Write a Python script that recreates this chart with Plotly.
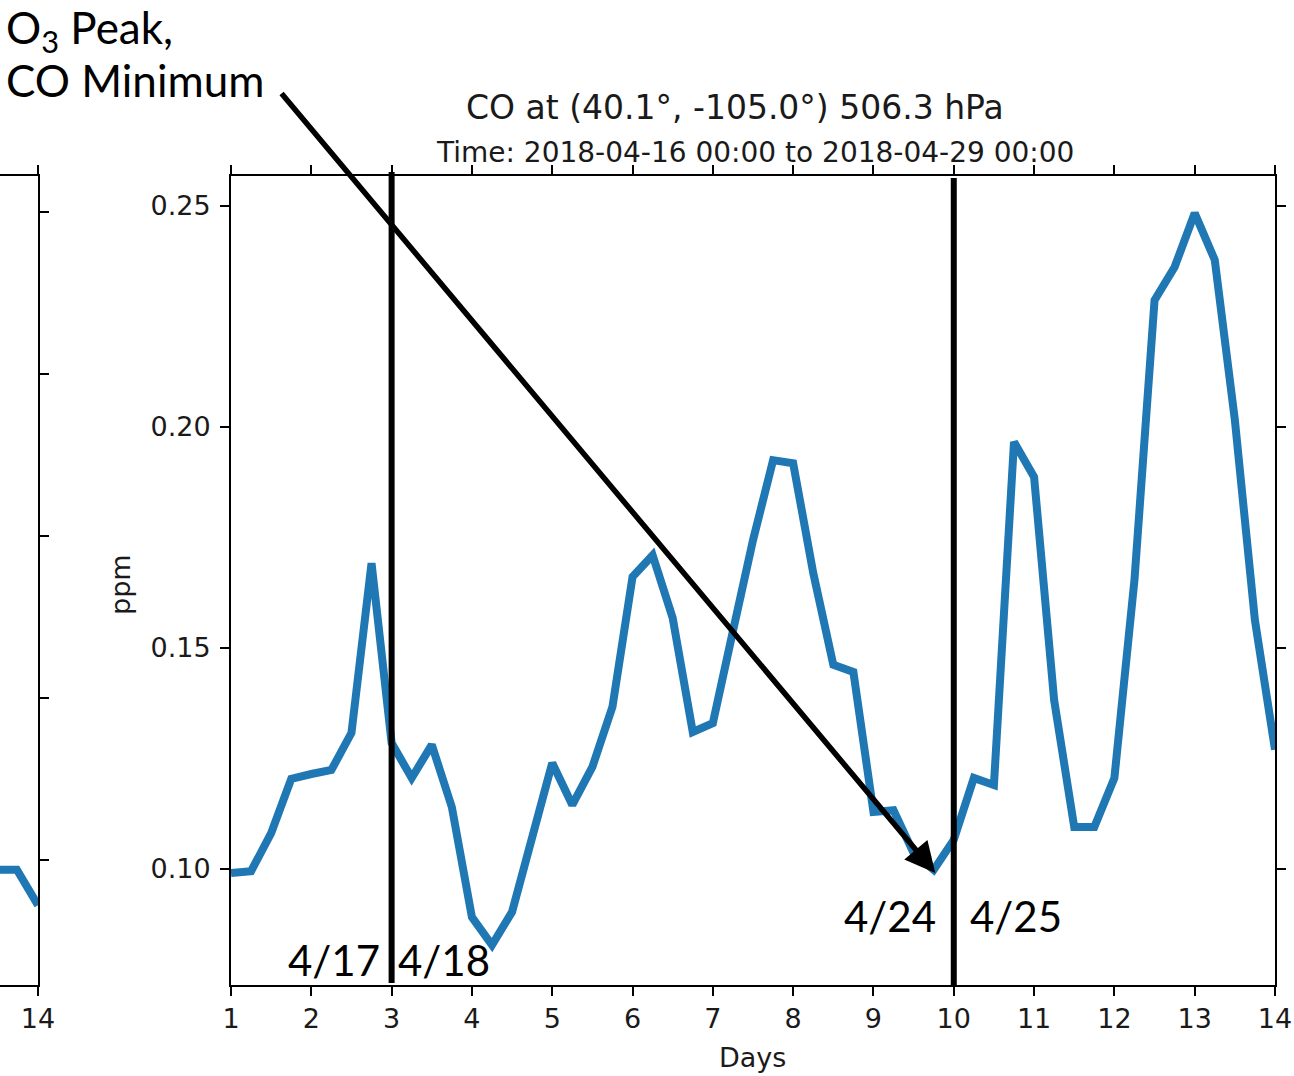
import plotly.graph_objects as go

W, H = 1294, 1076

# ---- data ----
days = [1.0, 1.25, 1.5, 1.75, 2.0, 2.25, 2.5, 2.75, 3.0, 3.25, 3.5, 3.75,
        4.0, 4.25, 4.5, 4.75, 5.0, 5.25, 5.5, 5.75, 6.0, 6.25, 6.5, 6.75,
        7.0, 7.25, 7.5, 7.75, 8.0, 8.25, 8.5, 8.75, 9.0, 9.25, 9.5, 9.75,
        10.0, 10.25, 10.5, 10.75, 11.0, 11.25, 11.5, 11.75, 12.0, 12.25,
        12.5, 12.75, 13.0, 13.25, 13.5, 13.75, 14.0]
co_ppm = [0.0991, 0.0995, 0.1081, 0.1204, 0.1215, 0.1224, 0.1308, 0.1692,
          0.1285, 0.1206, 0.1281, 0.1140, 0.0891, 0.0828, 0.0903, 0.1072,
          0.1240, 0.1145, 0.1231, 0.1367, 0.1661, 0.1710, 0.1568, 0.1310,
          0.1330, 0.1538, 0.1744, 0.1925, 0.1918, 0.1670, 0.1462, 0.1446,
          0.1129, 0.1133, 0.1036, 0.0998, 0.1066, 0.1206, 0.1190, 0.1966,
          0.1887, 0.1382, 0.1095, 0.1095, 0.1206, 0.1654, 0.2287, 0.2362,
          0.2484, 0.2378, 0.2016, 0.1563, 0.1270]
x_ticks = [1, 2, 3, 4, 5, 6, 7, 8, 9, 10, 11, 12, 13, 14]
y_ticks = [0.10, 0.15, 0.20, 0.25]
y_ticktext = ["0.10", "0.15", "0.20", "0.25"]

# partial neighbouring panel (only its right edge is visible)
left_days = [13.5, 13.75, 14.0]
left_vals = [0.0394, 0.0394, 0.0372]
left_yticks = [0.04, 0.05, 0.06, 0.07, 0.08]

event_days = [3, 10]
event_labels = [("4/17", "4/18"), ("4/24", "4/25")]
min_day, min_val = 9.77, 0.0991


def px(x):
    return x / W


def py(y):
    return 1 - y / H


BLUE = "#1f77b4"
TXT = "#1a1a1a"
MPL = "DejaVu Sans"
PPT = "Lato, Carlito, Calibri, 'Open Sans', sans-serif"

fig = go.Figure()
fig.add_trace(go.Scatter(x=days, y=co_ppm, mode="lines",
                         line=dict(color=BLUE, width=8), xaxis="x", yaxis="y",
                         showlegend=False, hoverinfo="skip"))
fig.add_trace(go.Scatter(x=left_days, y=left_vals, mode="lines",
                         line=dict(color=BLUE, width=8), xaxis="x2", yaxis="y2",
                         showlegend=False, hoverinfo="skip"))

axis_common = dict(showgrid=False, zeroline=False, showline=True,
                   linecolor="black", linewidth=2, ticks="outside",
                   ticklen=9, tickwidth=2, tickcolor="black", automargin=False,
                   tickfont=dict(family=MPL, size=27, color=TXT))

fig.update_layout(
    width=W, height=H, margin=dict(l=0, r=0, t=0, b=0, pad=0, autoexpand=False),
    paper_bgcolor="white", plot_bgcolor="white",
    xaxis=dict(domain=[px(231), px(1275)], range=[1, 14], tickvals=x_ticks,
               mirror="allticks", anchor="y", **axis_common),
    yaxis=dict(domain=[py(985), py(176)], range=[0.07376, 0.25679],
               tickvals=y_ticks, ticktext=y_ticktext, mirror="allticks",
               anchor="x", ticklabelstandoff=4, **axis_common),
    xaxis2=dict(domain=[0, px(38)], range=[13.55, 14.0], tickvals=[14],
                mirror="allticks", anchor="y2", **axis_common),
    yaxis2=dict(domain=[py(985), py(176)], range=[0.03228, 0.08222],
                tickvals=left_yticks, side="right", showticklabels=False,
                anchor="x2", **axis_common),
)

# event vertical lines
fig.add_shape(type="line", xref="x", yref="paper", x0=event_days[0], x1=event_days[0],
              y0=py(983), y1=py(172), line=dict(color="black", width=6))
fig.add_shape(type="line", xref="x", yref="paper", x0=event_days[1], x1=event_days[1],
              y0=py(987), y1=py(178), line=dict(color="black", width=6))

ann = []


def label(text, x, y, size, family, xanchor="center", yanchor="middle", **kw):
    ann.append(dict(text=text, x=px(x), y=py(y), xref="paper", yref="paper",
                    xanchor=xanchor, yanchor=yanchor, showarrow=False,
                    font=dict(family=family, size=size, color=kw.pop("color", TXT)),
                    **kw))


# titles
label("CO at (40.1°, -105.0°) 506.3 hPa", 735, 108, 33, MPL)
label("Time: 2018-04-16 00:00 to 2018-04-29 00:00", 755, 153, 28, MPL)
label("Days", 752, 1057, 27, MPL)
label("ppm", 121, 585, 27, MPL, textangle=-90)

# PowerPoint-style overlays
label("O<sub>3</sub> Peak,", 4, 30, 44, PPT, xanchor="left", color="black")
label("CO Minimum", 4, 80, 44, PPT, xanchor="left", color="black")
label(event_labels[0][0], 382, 960, 42, PPT, xanchor="right", color="black")
label(event_labels[0][1], 396, 960, 42, PPT, xanchor="left", color="black")
label(event_labels[1][0], 938, 916, 42, PPT, xanchor="right", color="black")
label(event_labels[1][1], 968, 916, 42, PPT, xanchor="left", color="black")

# arrow from the note to the CO minimum
ann.append(dict(text="", x=min_day, y=min_val, xref="x", yref="y",
                ax=280 - 935, ay=92 - 873, axref="pixel", ayref="pixel",
                showarrow=True, arrowhead=2, arrowsize=1.1, arrowwidth=5.5,
                arrowcolor="black", standoff=0))

fig.update_layout(annotations=ann)

fig.write_html("out.html")
